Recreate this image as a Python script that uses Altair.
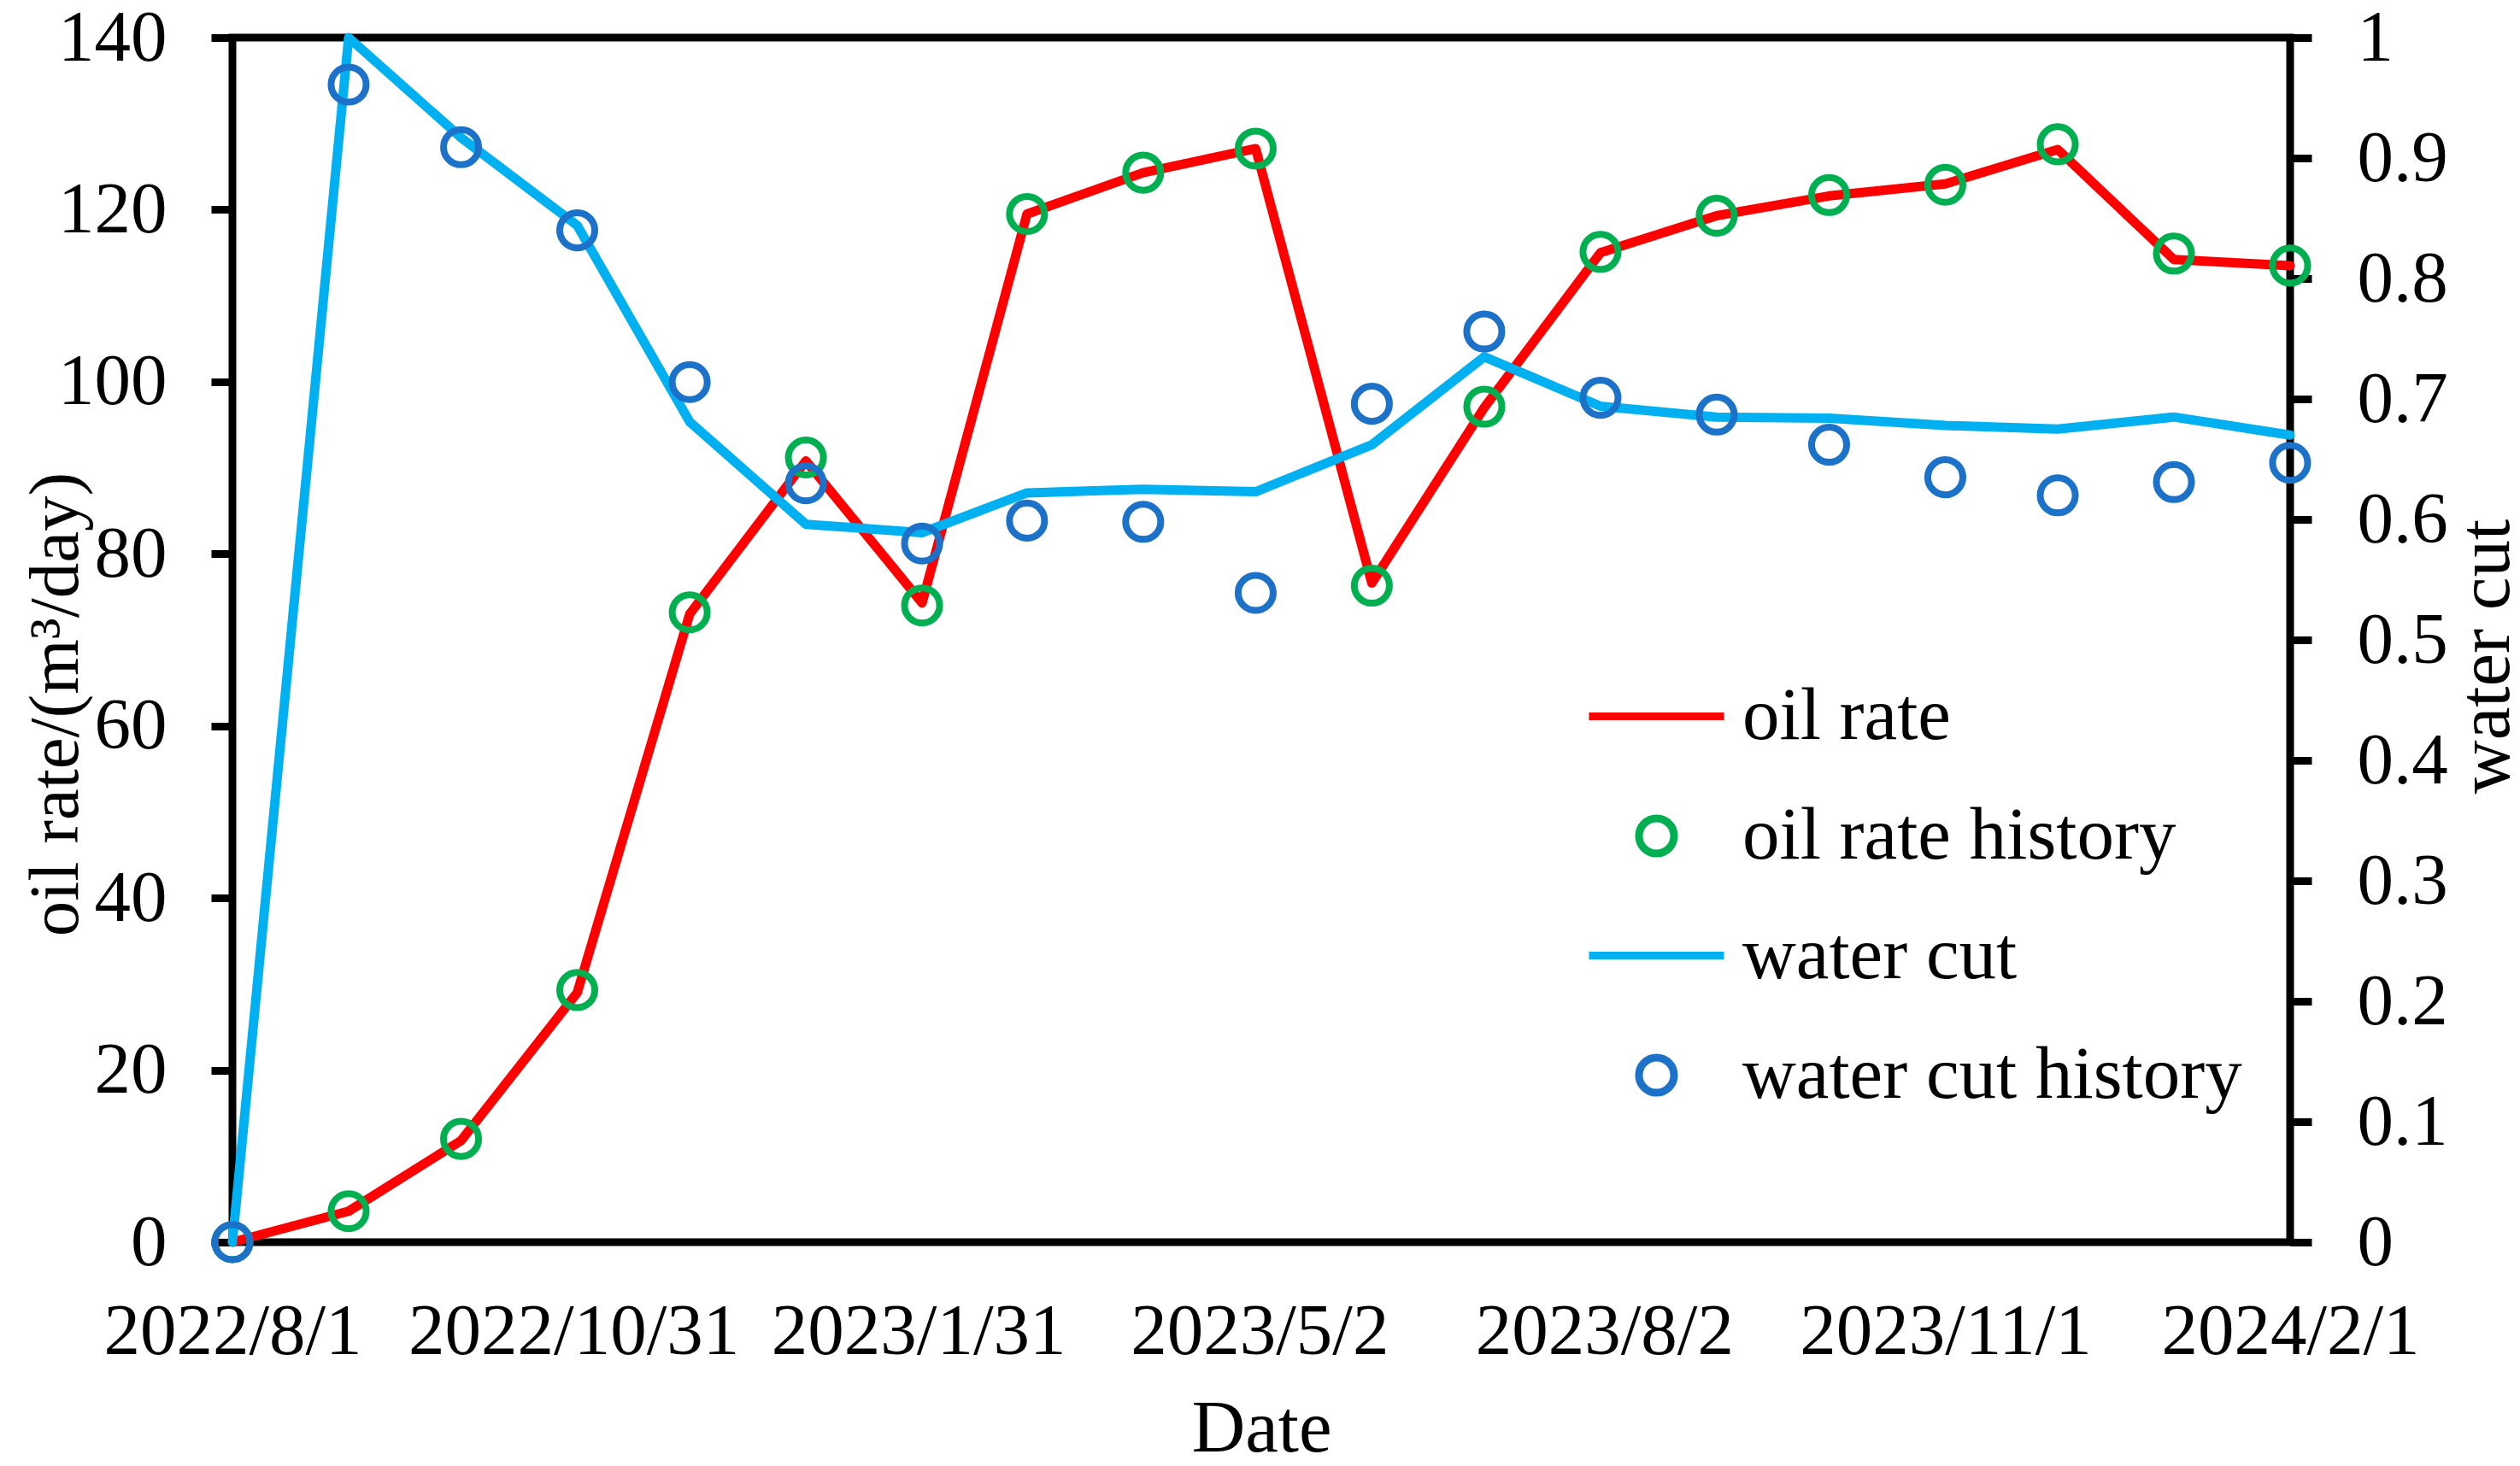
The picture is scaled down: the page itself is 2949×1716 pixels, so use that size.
import altair as alt
import pandas as pd

# ---------------- data ----------------
dates = ["2022-08-01", "2022-09-01", "2022-10-01", "2022-11-01", "2022-12-01",
         "2023-01-01", "2023-02-01", "2023-03-01", "2023-04-01", "2023-05-01",
         "2023-06-01", "2023-07-01", "2023-08-01", "2023-09-01", "2023-10-01",
         "2023-11-01", "2023-12-01", "2024-01-01", "2024-02-01"]

oil_rate = [0, 3.6, 11.8, 29.0, 73.0, 90.8, 74.3, 119.5, 124.3, 127.1,
            76.6, 97.0, 115.0, 119.3, 121.6, 123.0, 127.0, 114.2, 113.5]
oil_rate_history = [0, 3.6, 12.0, 29.3, 73.2, 91.2, 74.0, 119.5, 124.3, 127.1,
                    76.3, 97.1, 115.1, 119.3, 121.7, 122.9, 127.6, 114.9, 113.5]
water_cut = [0, 1.0, 0.917, 0.844, 0.681, 0.596, 0.589, 0.622, 0.625, 0.623,
             0.662, 0.735, 0.694, 0.685, 0.684, 0.678, 0.675, 0.685, 0.670]
water_cut_history = [0, 0.961, 0.909, 0.840, 0.714, 0.630, 0.580, 0.599, 0.598, 0.539,
                     0.696, 0.756, 0.701, 0.687, 0.662, 0.635, 0.620, 0.631, 0.647]

series_names = ["oil rate", "oil rate history", "water cut", "water cut history"]
series_colors = ["#FF0000", "#00B050", "#00B0F0", "#1C72C8"]

date_ticks = ["2022-08-01", "2022-10-31", "2023-01-31", "2023-05-02",
              "2023-08-02", "2023-11-01", "2024-02-01"]
oil_ticks = [0, 20, 40, 60, 80, 100, 120, 140]
wc_ticks = [0, 0.1, 0.2, 0.3, 0.4, 0.5, 0.6, 0.7, 0.8, 0.9, 1]

# ---------------- tables ----------------
def frame(values, name):
    return pd.DataFrame({"date": dates, "value": values, "series": name})

df_oil = frame(oil_rate, "oil rate")
df_oil_h = frame(oil_rate_history, "oil rate history")
df_wc = frame(water_cut, "water cut")
df_wc_h = frame(water_cut_history, "water cut history")

def dt(s):
    y, m, d = (int(p) for p in s.split("-"))
    return alt.DateTime(year=y, month=m, date=d, utc=True)

FONT = "Liberation Serif"
W, H = 2408, 1410

# ---------------- scales / axes ----------------
x_enc = alt.X(
    "date:T",
    scale=alt.Scale(type="utc", domain=[dt(dates[0]), dt(dates[-1])], nice=False),
    axis=alt.Axis(
        title="Date", values=[dt(s) for s in date_ticks],
        labelExpr="utcFormat(datum.value, '%Y/%-m/%-d')",
        ticks=False, tickSize=0, domain=False, grid=False,
        labelFlush=False, labelOverlap=False, labelLimit=2000,
        labelBaseline="alphabetic", labelPadding=130,
        titleX=W / 2, titleY=244, titleBaseline="alphabetic",
    ),
)

axis_oil = alt.Axis(
    title="oil rate/(m³/day)", values=oil_ticks, orient="left",
    domain=False, grid=False, tickSize=25, tickWidth=9, tickColor="black",
    labelPadding=52, labelFlush=False, labelOverlap=False,
    titleAngle=270, titleX=-182, titleY=780, titleAlign="center",
    titleBaseline="alphabetic", titleFontSize=83, titleLimit=2000,
)
axis_wc = alt.Axis(
    title="water cut", values=wc_ticks, orient="right",
    labelExpr="format(datum.value, '~g')",
    domain=False, grid=False, tickSize=25, tickWidth=9, tickColor="black",
    labelPadding=53, labelFlush=False, labelOverlap=False,
    titleAngle=270, titleX=255, titleY=724, titleAlign="center",
    titleBaseline="alphabetic", titleLimit=2000,
)

y_oil = alt.Y("value:Q", scale=alt.Scale(domain=[0, 140], nice=False, zero=True), axis=axis_oil)
y_wc = alt.Y("value:Q", scale=alt.Scale(domain=[0, 1], nice=False, zero=True), axis=axis_wc)

color_scale = alt.Scale(domain=series_names, range=series_colors)
line_path = "M-1,0L1,0"
circ_path = ("M0.26,0A0.26,0.26,0,1,1,-0.26,0"
             "A0.26,0.26,0,1,1,0.26,0Z")
shape_scale = alt.Scale(domain=series_names, range=[line_path, circ_path, line_path, circ_path])

legend = alt.Legend(
    title=None, orient="none", legendX=1583, legendY=711,
    labelFont=FONT, labelFontSize=87, labelColor="black", labelLimit=2000,
    symbolSize=24964, symbolStrokeWidth=9, symbolOffset=0,
    labelOffset=17, rowPadding=13, padding=0,
)

def line_layer(df, y, color):
    return alt.Chart(df).mark_line(
        strokeWidth=11, strokeJoin="round", strokeCap="round", color=color
    ).encode(x=x_enc, y=y, detail="series:N")

def point_layer(df, y):
    return alt.Chart(df).mark_point(filled=False, strokeWidth=8, opacity=1, size=24964).encode(
        x=x_enc, y=y,
        color=alt.Color("series:N", scale=color_scale, legend=legend),
        shape=alt.Shape("series:N", scale=shape_scale, legend=legend),
    )

oil_part = alt.layer(line_layer(df_oil, y_oil, series_colors[0]), point_layer(df_oil_h, y_oil))
wc_part = alt.layer(line_layer(df_wc, y_wc, series_colors[2]), point_layer(df_wc_h, y_wc))

chart = (
    alt.layer(oil_part, wc_part)
    .resolve_scale(y="independent")
    .properties(
        width=W, height=H,
        padding={"left": 264, "top": 36, "right": 260, "bottom": 252},
        autosize=alt.AutoSizeParams(type="none"),
        background="white",
    )
    .configure_view(stroke="black", strokeWidth=9)
    .configure_axis(
        labelFont=FONT, labelFontSize=85, labelColor="black",
        titleFont=FONT, titleFontSize=87, titleFontWeight="normal", titleColor="black",
    )
)

chart.save("out.html", embed_options={"renderer": "svg", "actions": False})
